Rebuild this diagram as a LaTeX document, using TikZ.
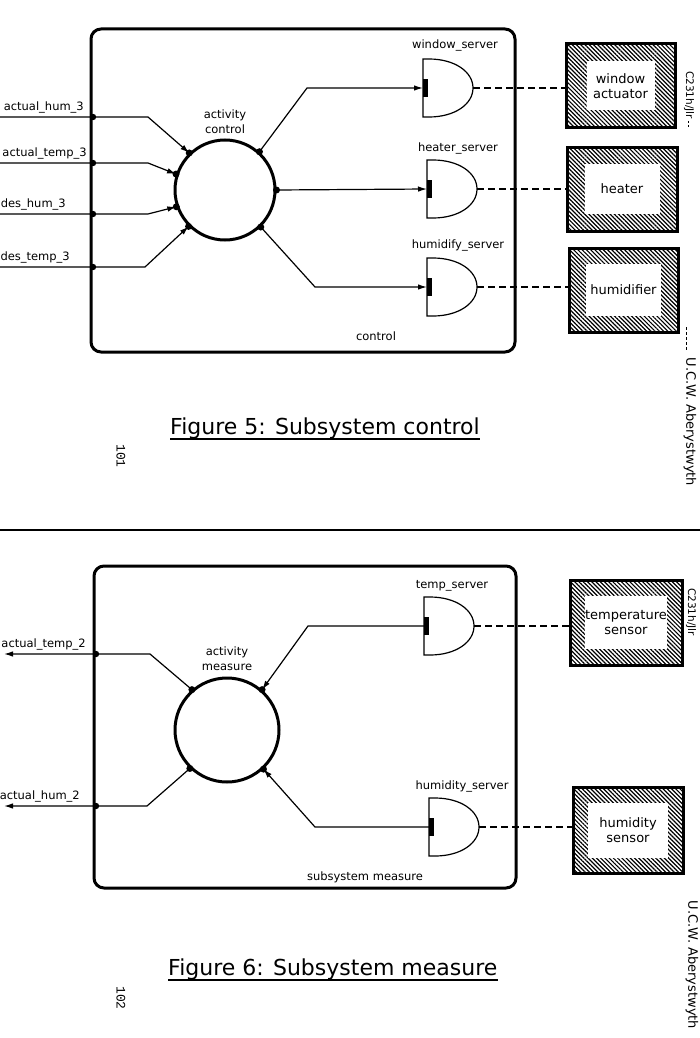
\documentclass[tikz,border=0pt]{standalone}
\usepackage{fontspec}
\setmainfont{DejaVu Sans}
\newfontfamily\pagefont{Liberation Mono}
\usetikzlibrary{arrows.meta,patterns.meta}

\begin{document}
\begin{tikzpicture}[x=1pt,y=-1pt,
  lbl/.style={font=\fontsize{11.5}{13}\selectfont, inner sep=0pt},
  frame/.style={line width=3pt, rounded corners=10pt},
  activity/.style={circle, draw, line width=3pt, minimum size=100pt, inner sep=0pt},
  flow/.style={line width=1.2pt, -{Latex[length=9pt,width=5.5pt]}},
  link/.style={line width=1.5pt, dash pattern=on 7pt off 4pt},
  device/.style={draw, line width=3pt, inner sep=0pt,
    pattern={Lines[angle=-45,distance=3pt,line width=1.2pt]}},
  devface/.style={fill=white, inner sep=0pt, align=center,
    font=\fontsize{13}{15}\selectfont},
  caption/.style={font=\fontsize{22}{26}\selectfont, inner sep=0pt},
  margin/.style={rotate=-90, inner sep=0pt},
  server/.pic={
    \draw[line width=1.2pt] (0,-29) -- (6,-29)
      .. controls (32,-29) and (50,-16) .. (50,0) coordinate (-out)
      .. controls (50,16) and (32,29) .. (6,29) -- (0,29) -- cycle;
    \fill (0,-9) rectangle (4.5,9);
    \coordinate (-in) at (0,0);
  }
]
\useasboundingbox (0,0) rectangle (700,1038);
\fill[white] (0,0) rectangle (700,1038);

% ================= Subsystem control =================
\draw[frame] (91,29) rectangle (515,352);
\node[activity] (ac) at (225,190) {};
\node[lbl] (ac-a) at (225,115) {activity};
\node[lbl] (ac-b) at (225,129) {control};
\node[lbl] (ctl) at (376,336) {control};

% inputs
\coordinate (i1) at (0,117);
\coordinate (i2) at (0,163);
\coordinate (i3) at (0,214);
\coordinate (i4) at (0,267);
\node[lbl, anchor=east] (l-i1) at (84,107) {actual\_hum\_3};
\node[lbl, anchor=east] (l-i2) at (87,153) {actual\_temp\_3};
\node[lbl, anchor=east] (l-i3) at (66,204) {des\_hum\_3};
\node[lbl, anchor=east] (l-i4) at (70,257) {des\_temp\_3};
\draw[flow] (i1) -- (148,117) -- (ac.134);
\draw[flow] (i2) -- (148,163) -- (ac.162);
\draw[flow] (i3) -- (148,214) -- (ac.199);
\draw[flow] (i4) -- (145,267) -- (ac.225);
\foreach \y in {117,163,214,267} \fill (93,\y) circle (3.2);
\foreach \a in {134,162,199,225,48,0,-46} \fill (ac.\a) circle (3.5);

% servers
\pic (ws) at (423,88) {server};
\pic (hs) at (427,189) {server};
\pic (hu) at (427,287) {server};
\node[lbl] (l-ws) at (455,45) {window\_server};
\node[lbl] (l-hs) at (458,148) {heater\_server};
\node[lbl] (l-hu) at (458,245) {humidify\_server};
\draw[flow] (ac.48) -- (307,88) -- (ws-in);
\draw[flow] (ac.0) -- (hs-in);
\draw[flow] (ac.-46) -- (315,287) -- (hu-in);

% devices
\node[device, minimum width=109pt, minimum height=84pt] (wa) at (620.5,86) {};
\node[devface, minimum width=68pt, minimum height=49pt] (wa-t) at (wa) {window\\actuator};
\node[device, minimum width=110pt, minimum height=84pt] (ht) at (622,189) {};
\node[devface, minimum width=75pt, minimum height=50pt] (ht-t) at (ht) {heater};
\node[device, minimum width=109pt, minimum height=84pt] (hf) at (623.5,290) {};
\node[devface, minimum width=75pt, minimum height=52pt] (hf-t) at (hf) {humidifier};
\draw[link] (ws-out) -- (ws-out -| wa.west);
\draw[link] (hs-out) -- (hs-out -| ht.west);
\draw[link] (hu-out) -- (hu-out -| hf.west);

% caption and margin notes
\node[caption, anchor=base west] (cap5) at (170,434) {Figure 5: Subsystem control};
\draw[line width=1.8pt] (cap5.south west) -- (cap5.south east);
\node[margin, font=\pagefont\fontsize{13}{13}\selectfont] (p101) at (121,456) {101};
\node[margin, font=\fontsize{10.5}{11}\selectfont] (ref5) at (689,95) {C231h/Jlr};
\node[margin, font=\fontsize{13}{14}\selectfont] (uni5) at (690,422) {U.C.W. Aberystwyth};
\draw[line width=0.8pt, dash pattern=on 2pt off 2pt] (688,121) -- (688,127);
\draw[line width=0.8pt, dash pattern=on 3pt off 2pt] (686,327) -- (686,350);

\draw[line width=1.5pt] (0,530) -- (700,530);

% ================= Subsystem measure =================
\draw[frame] (94,566) rectangle (516,888);
\node[activity, minimum size=104pt] (am) at (227,730) {};
\node[lbl] (am-a) at (227,652) {activity};
\node[lbl] (am-b) at (227,667) {measure};
\node[lbl] (msr) at (365,877) {subsystem measure};

% outputs
\coordinate (o1) at (4,654);
\coordinate (o2) at (4,806);
\node[lbl, anchor=east] (l-o1) at (86,644) {actual\_temp\_2};
\node[lbl, anchor=east] (l-o2) at (80,796) {actual\_hum\_2};
\draw[flow] (am.131) -- (150,654) -- (o1);
\draw[flow] (am.226) -- (147,806) -- (o2);
\foreach \y in {654,806} \fill (96,\y) circle (3.2);
\foreach \a in {131,226,49,-47} \fill (am.\a) circle (3.5);

% servers
\pic (ts) at (424,626) {server};
\pic (hy) at (429,827) {server};
\node[lbl] (l-ts) at (452,586) {temp\_server};
\node[lbl] (l-hy) at (462,786) {humidity\_server};
\draw[flow] (ts-in) -- (308,626) -- (am.49);
\draw[flow] (hy-in) -- (315,827) -- (am.-47);

% sensors
\node[device, minimum width=112pt, minimum height=85pt] (tsn) at (626,622.5) {};
\node[devface, minimum width=82pt, minimum height=53pt] (tsn-t) at (tsn) {temperature\\sensor};
\node[device, minimum width=110pt, minimum height=86pt] (hsn) at (628,830) {};
\node[devface, minimum width=80pt, minimum height=55pt] (hsn-t) at (hsn) {humidity\\sensor};
\draw[link] (ts-out) -- (ts-out -| tsn.west);
\draw[link] (hy-out) -- (hy-out -| hsn.west);

% caption and margin notes
\node[caption, anchor=base west] (cap6) at (168,975) {Figure 6: Subsystem measure};
\draw[line width=1.8pt] (cap6.south west) -- (cap6.south east);
\node[margin, font=\pagefont\fontsize{13}{13}\selectfont] (p102) at (121,998) {102};
\node[margin, font=\fontsize{10.5}{11}\selectfont] (ref6) at (691,612) {C231h/Jlr};
\node[margin, font=\fontsize{13}{14}\selectfont] (uni6) at (692,965) {U.C.W. Aberystwyth};
\end{tikzpicture}
\end{document}
